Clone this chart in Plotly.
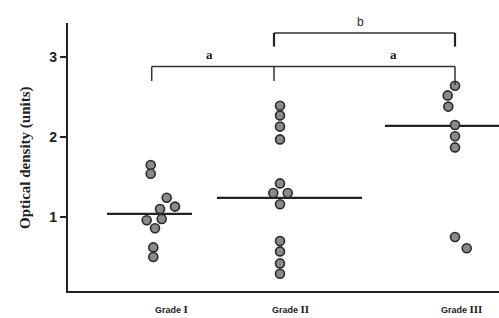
import plotly.graph_objects as go

# ---- data ----
groups = ["Grade I", "Grade II", "Grade III"]
numerals = ["I", "II", "III"]
group_centers = [87, 212, 387]          # x positions of dot columns
label_centers = [103, 222, 393]         # x positions of category labels

g1_vals = [1.65, 1.54, 1.24, 1.13, 1.10, 0.975, 0.96, 0.86, 0.62, 0.50]
g1_dx   = [-4.3, -4.3, 11.7, 20, 5, 6.7, -8.3, 0, -1.7, -1.7]
g2_vals = [2.39, 2.27, 2.13, 1.97, 1.42, 1.30, 1.30, 1.16, 0.70, 0.57, 0.42, 0.29]
g2_dx   = [0, 0, 0, 0, 0, -6.7, 7.7, 0, 0, 0, 0, 0]
g3_vals = [2.64, 2.52, 2.38, 2.15, 2.01, 1.87, 0.75, 0.61]
g3_dx   = [0, -7.3, -6.7, 0, 0, 0, 0, 11.7]

medians = [1.04, 1.24, 2.14]
median_x0 = [39, 149, 317]
median_x1 = [124, 294, 431]

yticks = [1, 2, 3]

fig = go.Figure()

all_vals = [g1_vals, g2_vals, g3_vals]
all_dx = [g1_dx, g2_dx, g3_dx]

# median lines
for m, a, b in zip(medians, median_x0, median_x1):
    fig.add_trace(go.Scatter(x=[a, b], y=[m, m], mode="lines",
                             line=dict(color="#222", width=2.2),
                             showlegend=False, hoverinfo="skip"))

for c, vals, dx in zip(group_centers, all_vals, all_dx):
    fig.add_trace(go.Scatter(
        x=[c + d for d in dx], y=vals, mode="markers",
        marker=dict(size=9, color="#8a8a8a", line=dict(color="#2a2a2a", width=1.6)),
        showlegend=False, cliponaxis=False))

# significance brackets
bl = dict(color="#333", width=1.5)
xa, xb, xc = group_centers
lo_top, lo_bot = 2.88, 2.70
hi_top, hi_bot = 3.30, 3.13
fig.add_shape(type="line", x0=xa - 3.3, x1=xc, y0=lo_top, y1=lo_top, line=bl)
fig.add_shape(type="line", x0=xa - 3.3, x1=xa - 3.3, y0=lo_top, y1=lo_bot, line=bl)
fig.add_shape(type="line", x0=xb - 6, x1=xb - 6, y0=lo_top, y1=lo_bot, line=bl)
fig.add_shape(type="line", x0=xc, x1=xc, y0=lo_top, y1=lo_bot - 0.05, line=bl)
fig.add_shape(type="line", x0=xb - 6, x1=xc, y0=hi_top, y1=hi_top, line=bl)
fig.add_shape(type="line", x0=xb - 6, x1=xb - 6, y0=hi_top, y1=hi_bot, line=dict(color="#222", width=2.2))
fig.add_shape(type="line", x0=xc, x1=xc, y0=hi_top, y1=hi_bot, line=dict(color="#222", width=2.2))

fig.add_annotation(x=141, y=3.03, text="<b>a</b>", showarrow=False,
                   font=dict(family="Liberation Serif", size=13, color="#222"))
fig.add_annotation(x=325, y=3.03, text="<b>a</b>", showarrow=False,
                   font=dict(family="Liberation Serif", size=13, color="#222"))
fig.add_annotation(x=292, xref="x", y=1.005, yref="paper", text="b", showarrow=False,
                   yanchor="middle",
                   font=dict(family="Liberation Sans", size=12, color="#222"))

# y-axis title
fig.add_annotation(x=-0.0998, xref="paper", y=0.5, yref="paper", textangle=-90,
                   text="<b>Optical density (units)</b>", showarrow=False,
                   xanchor="center", yanchor="middle",
                   font=dict(family="Liberation Serif", size=15, color="#222"))

# category labels
for lc, g, n in zip(label_centers, groups, numerals):
    fig.add_annotation(
        x=lc, xref="x", y=-0.069, yref="paper", yanchor="middle", showarrow=False,
        text=("<b><span style='font-family:Liberation Sans Narrow, Liberation Sans; font-size:9px'>Grade </span></b>"
              f"<b><span style='font-family:Liberation Serif; font-size:11px'>{n}</span></b>"),
        font=dict(color="#222"))

fig.update_xaxes(range=[0, 431], showline=True, linecolor="#222", linewidth=2.2,
                 showticklabels=False, ticks="", showgrid=False, zeroline=False)
fig.update_yaxes(range=[0.075, 3.425], showline=True, linecolor="#222", linewidth=2.2,
                 tickvals=yticks, ticktext=[f"<b>{v}</b>" for v in yticks],
                 ticks="outside", ticklen=6, tickwidth=2, tickcolor="#222",
                 tickfont=dict(family="Liberation Sans", size=14, color="#222"),
                 showgrid=False, zeroline=False)

fig.update_layout(width=499, height=318, margin=dict(l=68, r=0, t=23, b=27),
                  plot_bgcolor="white", paper_bgcolor="white")

fig.write_html("out.html", config={"displayModeBar": False},
               post_script="document.body.style.margin='0';document.body.style.overflow='hidden';")
